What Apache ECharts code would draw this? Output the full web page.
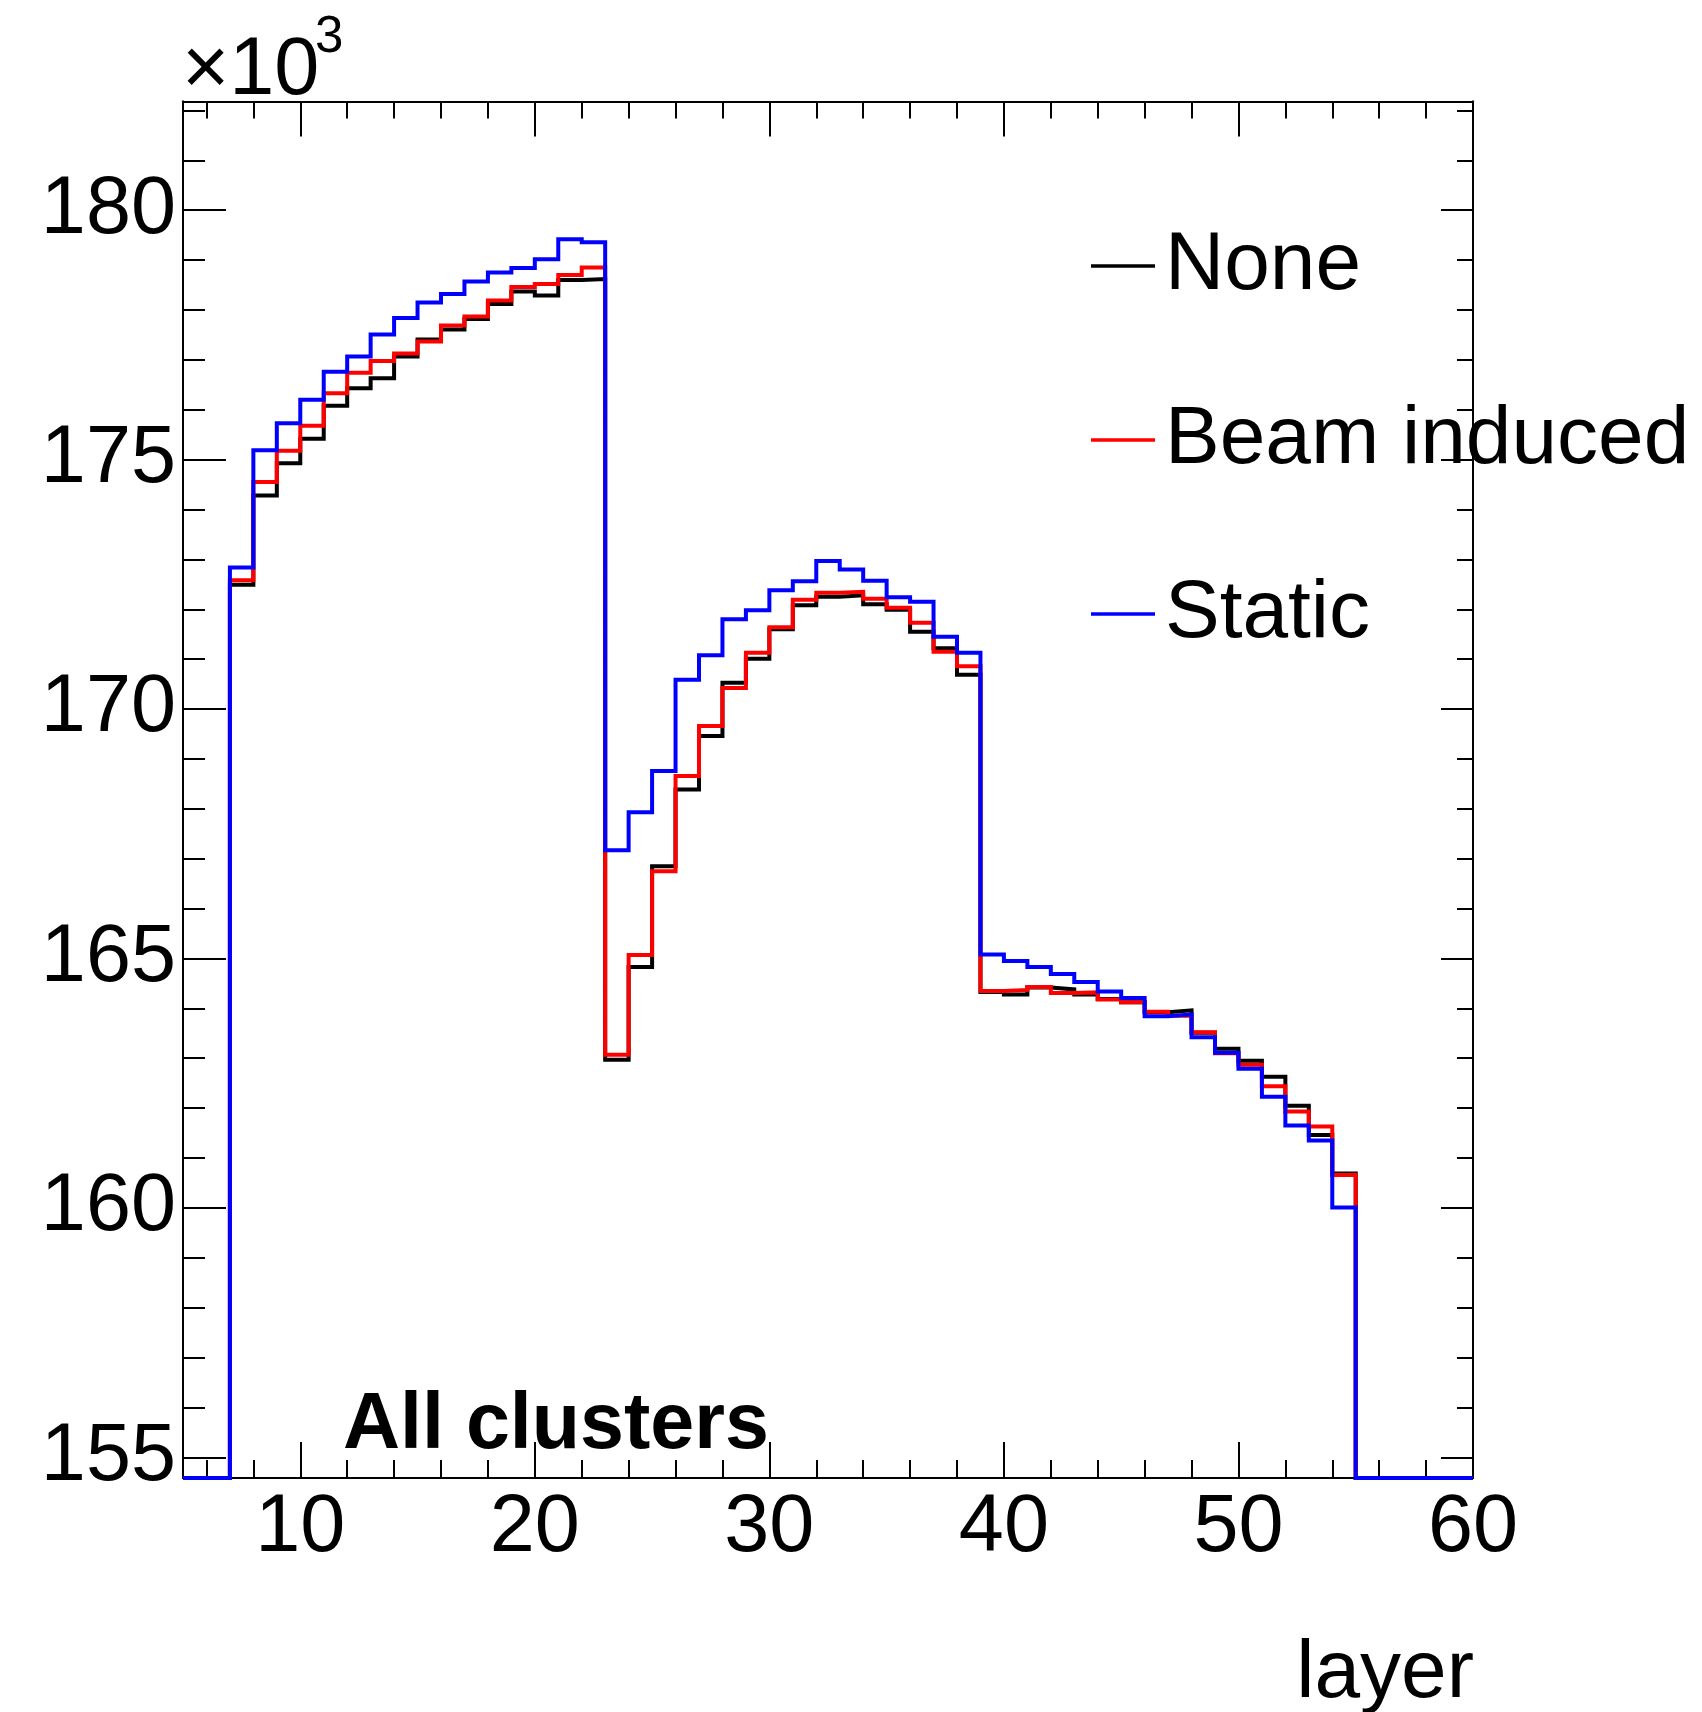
<!DOCTYPE html>
<html>
<head>
<meta charset="utf-8">
<title>All clusters per layer</title>
<script src="https://cdn.jsdelivr.net/npm/echarts@6/dist/echarts.min.js"></script>
<style>
  html, body { margin: 0; padding: 0; background: #fff; }
  #chart { width: 1702px; height: 1712px; }
</style>
</head>
<body>
<div id="chart"></div>
<script>
// Histogram bins: low edge of each unit-wide layer bin (range 5 .. 60)
const binLowEdges = [5,6,7,8,9,10,11,12,13,14,15,16,17,18,19,20,21,22,23,24,25,26,27,28,29,30,
  31,32,33,34,35,36,37,38,39,40,41,42,43,44,45,46,47,48,49,50,51,52,53,54,55,56,57,58,59];
const xUpperEdge = 60;

// Cluster counts per layer, in units of 10^3
const countsNone = [0,0,
  172.49,174.28,174.93,175.42,176.08,176.43,176.63,177.07,177.41,177.61,177.82,178.12,178.37,178.29,178.60,178.62,
  162.97,164.83,166.85,168.39,169.46,170.53,171.01,171.60,172.08,172.25,172.28,172.10,171.99,171.55,171.22,170.69,
  164.33,164.28,164.42,164.38,164.28,164.19,164.12,163.92,163.96,163.51,163.19,162.95,162.63,162.05,161.46,160.69,
  0,0,0,0,0];
const countsBeamInduced = [0,0,
  172.58,174.55,175.18,175.68,176.33,176.74,176.98,177.13,177.37,177.69,177.87,178.19,178.46,178.52,178.70,178.85,
  163.07,165.07,166.75,168.66,169.66,170.42,171.13,171.64,172.19,172.33,172.35,172.21,172.03,171.73,171.15,170.86,
  164.35,164.37,164.43,164.31,164.32,164.18,164.12,163.93,163.85,163.52,163.10,162.87,162.44,161.93,161.63,160.66,
  0,0,0,0,0];
const countsStatic = [0,0,
  172.84,175.19,175.73,176.20,176.76,177.07,177.51,177.84,178.15,178.32,178.57,178.75,178.84,179.02,179.42,179.36,
  167.17,167.93,168.76,170.59,171.08,171.80,171.98,172.38,172.56,172.97,172.80,172.57,172.24,172.15,171.45,171.13,
  165.08,164.95,164.83,164.69,164.53,164.34,164.21,163.84,163.88,163.42,163.11,162.79,162.23,161.65,161.35,160.01,
  0,0,0,0,0];

const seriesNames = ['None', 'Beam induced', 'Static'];
const seriesColors = ['#000000', '#ff0000', '#0000ff'];

// Axis ticks and labels
const xMajorTicks = [10, 20, 30, 40, 50, 60];
const xMinorTicks = [6,8,10,12,14,16,18,20,22,24,26,28,30,32,34,36,38,40,42,44,46,48,50,52,54,56,58,60];
const yMajorTicks = [155, 160, 165, 170, 175, 180];
const yMinorTicks = [155,156,157,158,159,160,161,162,163,164,165,166,167,168,169,170,171,172,173,174,175,176,177,178,179,180,181,182];

const X_MIN = 5, X_MAX = 60;
const Y_MIN = 154.585, Y_MAX = 182.18;

const FONT = '"Liberation Sans", Arial, Helvetica, sans-serif';

// Step outline of a histogram; empty bins sit on the frame floor like ROOT draws them
function histPoints(values) {
  const pts = binLowEdges.map((e, i) => [e, Math.max(values[i], Y_MIN)]);
  pts.push([xUpperEdge, Math.max(values[values.length - 1], Y_MIN)]);
  return pts;
}

function axisBase(extra) {
  return Object.assign({
    type: 'value',
    axisLine: { show: true, onZero: false, lineStyle: { color: '#000', width: 2 } },
    splitLine: { show: false },
    axisLabel: { show: false }
  }, extra);
}

const chart = echarts.init(document.getElementById('chart'), null, { renderer: 'canvas' });

const option = {
  backgroundColor: '#ffffff',
  animation: false,
  grid: { left: 183, top: 101.5, width: 1290, height: 1376.5, containLabel: false },
  xAxis: [
    axisBase({
      position: 'bottom', min: X_MIN, max: X_MAX,
      axisTick: { show: true, inside: true, length: 36, customValues: xMajorTicks, lineStyle: { color: '#000', width: 2 } },
      axisLabel: { show: true, customValues: xMajorTicks, margin: 10, fontSize: 81, color: '#000', fontFamily: FONT }
    }),
    axisBase({
      position: 'bottom', min: X_MIN, max: X_MAX,
      axisTick: { show: true, inside: true, length: 18, customValues: xMinorTicks, lineStyle: { color: '#000', width: 2 } }
    }),
    axisBase({
      position: 'top', min: X_MIN, max: X_MAX,
      axisTick: { show: true, inside: true, length: 35, customValues: xMajorTicks, lineStyle: { color: '#000', width: 2 } }
    }),
    axisBase({
      position: 'top', min: X_MIN, max: X_MAX,
      axisTick: { show: true, inside: true, length: 17, customValues: xMinorTicks, lineStyle: { color: '#000', width: 2 } }
    })
  ],
  yAxis: [
    axisBase({
      position: 'left', min: Y_MIN, max: Y_MAX,
      axisTick: { show: true, inside: true, length: 43, customValues: yMajorTicks, lineStyle: { color: '#000', width: 2 } },
      axisLabel: { show: true, customValues: yMajorTicks, margin: 7, fontSize: 81, color: '#000', fontFamily: FONT }
    }),
    axisBase({
      position: 'left', min: Y_MIN, max: Y_MAX,
      axisTick: { show: true, inside: true, length: 22, customValues: yMinorTicks, lineStyle: { color: '#000', width: 2 } }
    }),
    axisBase({
      position: 'right', min: Y_MIN, max: Y_MAX,
      axisTick: { show: true, inside: true, length: 32, customValues: yMajorTicks, lineStyle: { color: '#000', width: 2 } }
    }),
    axisBase({
      position: 'right', min: Y_MIN, max: Y_MAX,
      axisTick: { show: true, inside: true, length: 16, customValues: yMinorTicks, lineStyle: { color: '#000', width: 2 } }
    })
  ],
  legend: {
    orient: 'vertical',
    left: 1086,
    top: 216,
    itemWidth: 64,
    itemHeight: 3.5,
    itemGap: 84,
    icon: 'rect',
    selectedMode: false,
    data: seriesNames,
    textStyle: { fontSize: 82, lineHeight: 90, color: '#000', fontFamily: FONT, padding: [0, 0, 0, 5] }
  },
  series: [countsNone, countsBeamInduced, countsStatic].map((vals, i) => ({
    name: seriesNames[i],
    type: 'line',
    step: 'end',
    xAxisIndex: 0,
    yAxisIndex: 0,
    data: histPoints(vals),
    showSymbol: false,
    symbol: 'none',
    clip: false,
    z: 3 + i,
    color: seriesColors[i],
    lineStyle: { color: seriesColors[i], width: 4, join: 'miter', cap: 'butt' },
    emphasis: { disabled: true }
  })),
  graphic: [
    { type: 'text', left: 182, top: 31, style: { text: '×10', fontSize: 81, fill: '#000', fontFamily: FONT } },
    { type: 'text', left: 315, top: 12, style: { text: '3', fontSize: 51, fill: '#000', fontFamily: FONT } },
    { type: 'text', left: 343, top: 1387, style: { text: 'All clusters', fontSize: 79, fontWeight: 'bold', fill: '#000', fontFamily: FONT } },
    { type: 'text', right: 228, top: 1633, style: { text: 'layer', fontSize: 82, fill: '#000', fontFamily: FONT } }
  ]
};

chart.setOption(option);
</script>
</body>
</html>
